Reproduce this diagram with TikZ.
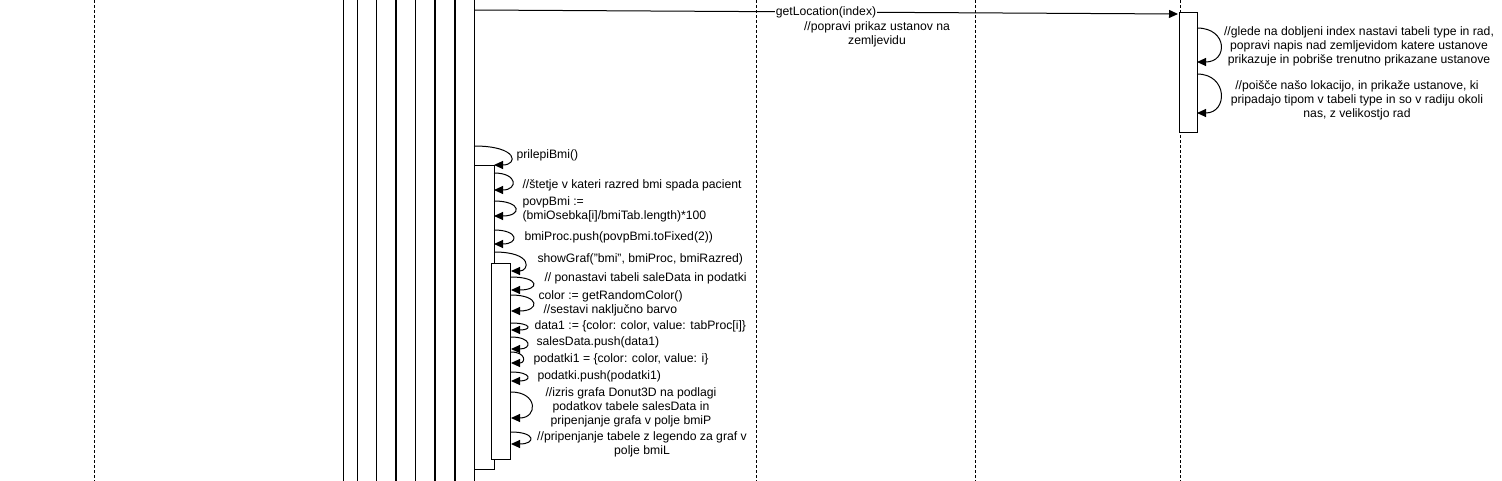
\documentclass[tikz,border=0pt]{standalone}
\usepackage{fontspec}
\setmainfont{Liberation Sans}
\usetikzlibrary{arrows.meta}

\begin{document}
\begin{tikzpicture}[x=1pt,y=-1pt,line width=1pt,
  lifeline/.style={dash pattern=on 3pt off 2pt},
  msg/.style={-{Triangle[length=9pt,width=8pt]}},
  actbox/.style={draw,fill=white},
  txt/.style={font=\fontsize{12.2}{14}\selectfont,inner sep=0pt}]
\useasboundingbox (0,0) rectangle (1502,481);
% lifelines
\draw[lifeline] (94,0) -- (94,481);
\draw[lifeline] (756,0) -- (756,481);
\draw[lifeline] (975,0) -- (975,481);
\draw[lifeline] (1180,0) -- (1180,481);
\draw (343,0) -- (343,481);
\draw (357,0) -- (357,481);
\draw (376,0) -- (376,481);
\draw[line width=2pt] (396,0) -- (396,481);
\draw (415,0) -- (415,481);
\draw[line width=2pt] (435,0) -- (435,481);
\draw[line width=2pt] (455,0) -- (455,481);
\draw (474,0) -- (474,481);
% activations
\draw[actbox] (474,166) rectangle (494,469);
\draw[actbox] (491,263) rectangle (510,459);
\draw[actbox] (1179,13) rectangle (1197,133);
% getLocation
\coordinate (gs) at (474,10);
\coordinate (ge) at (1178,14);
\draw[msg] (gs) -- (ge);
\node[txt,fill=white,inner sep=1pt] (getloc) at (826,12) {getLocation(index)};
\node[txt,align=center] (popravi) at (877,34) {//popravi prikaz ustanov na\\zemljevidu};
% right self calls
\coordinate (r1s) at (1197,28);
\coordinate (r1e) at (1197,62);
\draw[msg] (r1s) .. controls +(31,0) and +(31,0) .. (r1e);
\node[txt,align=center] (glede) at (1359,46) {//glede na dobljeni index nastavi tabeli type in rad,\\popravi napis nad zemljevidom katere ustanove\\prikazuje in pobriše trenutno prikazane ustanove};
\coordinate (r2s) at (1197,74);
\coordinate (r2e) at (1197,113);
\draw[msg] (r2s) .. controls +(31,0) and +(31,0) .. (r2e);
\node[txt,align=center] (poisce) at (1357,100) {//poišče našo lokacijo, in prikaže ustanove, ki\\pripadajo tipom v tabeli type in so v radiju okoli\\nas, z velikostjo rad};
% left self calls
\coordinate (p1s) at (474,146);
\coordinate (p1e) at (494,165);
\draw[msg] (p1s) .. controls +(45,0) and +(24,0) .. (p1e);
\node[txt,anchor=west] (prilepi) at (516,155) {prilepiBmi()};
\coordinate (p2s) at (494,173);
\coordinate (p2e) at (494,190);
\draw[msg] (p2s) .. controls +(24,0) and +(24,0) .. (p2e);
\node[txt,anchor=west] (stetje) at (522,185) {//štetje v kateri razred bmi spada pacient};
\coordinate (p3s) at (494,201);
\coordinate (p3e) at (494,216);
\draw[msg] (p3s) .. controls +(28,0) and +(28,0) .. (p3e);
\node[txt,anchor=west,align=left] (povp) at (522,209) {povpBmi :=\\(bmiOsebka[i]/bmiTab.length)*100};
\coordinate (p4s) at (494,230);
\coordinate (p4e) at (494,244);
\draw[msg] (p4s) .. controls +(25,0) and +(25,0) .. (p4e);
\node[txt,anchor=west] (bmiproc) at (524,237) {bmiProc.push(povpBmi.toFixed(2))};
\coordinate (p5s) at (494,252);
\coordinate (p5e) at (511,271);
\draw[msg] (p5s) .. controls +(40,0) and +(18,0) .. (p5e);
\node[txt,anchor=west] (showgraf) at (537,259) {showGraf("bmi", bmiProc, bmiRazred)};
\coordinate (p6s) at (511,277);
\coordinate (p6e) at (511,290);
\draw[msg] (p6s) .. controls +(29,0) and +(29,0) .. (p6e);
\node[txt,anchor=west] (ponastavi) at (544,278) {// ponastavi tabeli saleData in podatki};
\coordinate (p7s) at (511,295);
\coordinate (p7e) at (511,311);
\draw[msg] (p7s) .. controls +(29,0) and +(29,0) .. (p7e);
\node[txt,anchor=west,align=left] (color) at (538,303) {color := getRandomColor()\\\hspace*{5pt}//sestavi naključno barvo};
\coordinate (p8s) at (511,323);
\coordinate (p8e) at (511,330);
\draw[msg] (p8s) .. controls +(21,0) and +(21,0) .. (p8e);
\node[txt,anchor=west] (data) at (534,326) {data1 := \{color: color, value: tabProc[i]\}};
\coordinate (p9s) at (511,337);
\coordinate (p9e) at (511,349);
\draw[msg] (p9s) .. controls +(21,0) and +(21,0) .. (p9e);
\node[txt,anchor=west] (salesdata) at (536,342) {salesData.push(data1)};
\coordinate (p10s) at (511,352);
\coordinate (p10e) at (511,363);
\draw[msg] (p10s) .. controls +(15,0) and +(15,0) .. (p10e);
\node[txt,anchor=west] (podatki1) at (533,359) {podatki1 = \{color: color, value: i\}};
\coordinate (p11s) at (511,372);
\coordinate (p11e) at (511,381);
\draw[msg] (p11s) .. controls +(21,0) and +(21,0) .. (p11e);
\node[txt,anchor=west] (podatki) at (537,376) {podatki.push(podatki1)};
\coordinate (p12s) at (511,392);
\coordinate (p12e) at (511,418);
\draw[msg] (p12s) .. controls +(27,0) and +(27,0) .. (p12e);
\node[txt,align=center] (izris) at (631,407) {//izris grafa Donut3D na podlagi\\podatkov tabele salesData in\\pripenjanje grafa v polje bmiP};
\coordinate (p13s) at (511,432);
\coordinate (p13e) at (511,444);
\draw[msg] (p13s) .. controls +(25,0) and +(25,0) .. (p13e);
\node[txt,align=center] (pripenjanje) at (642,444) {//pripenjanje tabele z legendo za graf v\\polje bmiL};
\end{tikzpicture}
\end{document}
